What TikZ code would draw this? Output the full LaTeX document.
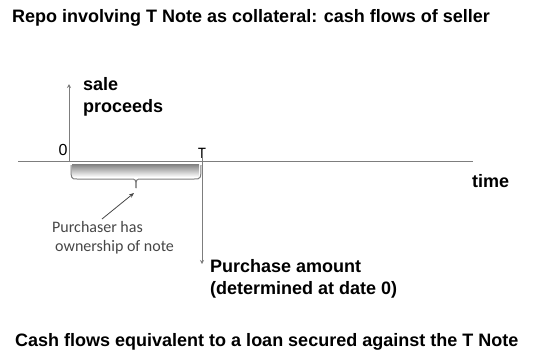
\documentclass[tikz,border=0pt]{standalone}
\usepackage{fontspec}
\setmainfont{Liberation Sans}
\newfontfamily\carlitofont{Carlito}
\usetikzlibrary{arrows.meta}
\definecolor{axisgray}{RGB}{125,125,125}
\definecolor{notegray}{RGB}{70,70,70}
\definecolor{shade}{RGB}{232,232,232}
\tikzset{
  bold/.style={font=\fontsize{18}{22}\selectfont\bfseries, inner sep=0pt, anchor=west, align=left},
  axis/.style={draw=axisgray, line width=1pt},
  flow/.style={draw=axisgray, line width=1pt, -{Stealth[length=4pt,width=4pt]}},
}
\begin{document}
\begin{tikzpicture}[x=1pt,y=-1pt]
\useasboundingbox (0,0) rectangle (542,360);
% title
\node[bold] (title) at (12,18) {Repo involving T Note as collateral: cash flows of seller};
% timeline
\coordinate (tl) at (18,161);
\coordinate (tr) at (473,161);
\draw[axis] (tl) -- (tr);
\node[bold] (time) at (472,181) {time};
% labels 0 and T
\node[font=\fontsize{16}{18}\selectfont, inner sep=0pt] (zero) at (63,150) {0};
\node[font=\carlitofont\fontsize{16}{18}\selectfont, inner sep=0pt] (Tlab) at (202,153) {T};
% shaded region and brace
\fill[shade] (72,164) rectangle (199,177);
\draw[axisgray, line width=1pt] (71,165) .. controls (71,179) .. (77,179) -- (130,179)
  .. controls (136,179) .. (136,188);
\draw[axisgray, line width=1pt] (136,188) .. controls (136,179) .. (142,179) -- (194,179)
  .. controls (201,179) .. (201,165);
% flows
\coordinate (o0) at (69,161);
\coordinate (up) at (69,84);
\draw[flow] (o0) -- (up);
\node[bold] (sale) at (83,97) {sale\\proceeds};
\coordinate (oT) at (202,150);
\coordinate (down) at (202,264);
\draw[flow] (oT) -- (down);
\node[bold] (purch) at (210,279) {Purchase amount\\(determined at date 0)};
% note
\node[font=\carlitofont\fontsize{16}{19}\selectfont, text=notegray, align=left, inner sep=0pt, anchor=west] (note) at (52,237.5) {Purchaser has\\\hspace{3pt}ownership of note};
\coordinate (ns) at (102,219);
\coordinate (tip) at (134,193);
\draw[draw=notegray, line width=0.8pt, -{Stealth[length=5pt,width=4pt]}] (ns) -- (tip);
% bottom title
\node[bold] (bottom) at (15,342) {Cash flows equivalent to a loan secured against the T Note};
\end{tikzpicture}
\end{document}
